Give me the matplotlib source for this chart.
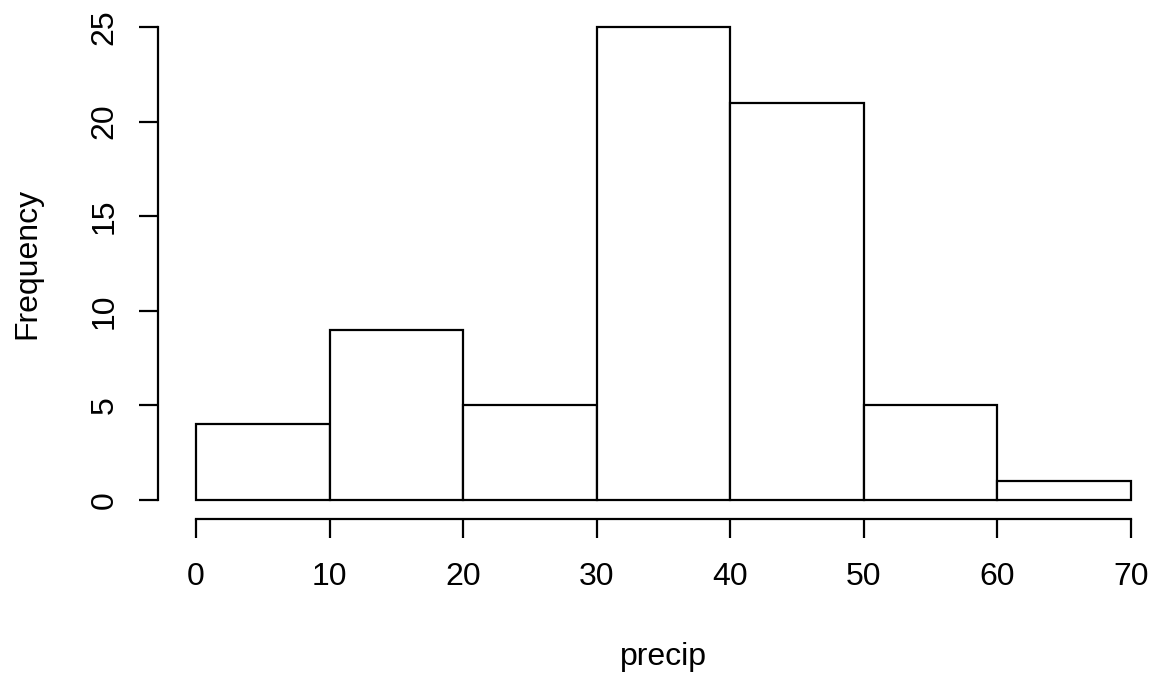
import matplotlib
matplotlib.use("Agg")
import matplotlib.pyplot as plt

breaks = [0, 10, 20, 30, 40, 50, 60, 70]
counts = [4, 9, 5, 25, 21, 5, 1]
xticks = [0, 10, 20, 30, 40, 50, 60, 70]
yticks = [0, 5, 10, 15, 20, 25]
xlabel = "precip"
ylabel = "Frequency"

plt.rcParams['font.family'] = ['Liberation Sans', 'DejaVu Sans']
FS = 23

W, H = 1155, 677
fig = plt.figure(figsize=(W / 100, H / 100), dpi=100)
ax = fig.add_axes([0, 0, 1, 1])

# pixel mapping
x0px, x70px = 196, 1131
y0px, y25px = 500, 27
sx = (x70px - x0px) / 70.0
sy = (y0px - y25px) / 25.0
ax.set_xlim(-x0px / sx, (W - x0px) / sx)
ax.set_ylim(-(H - y0px) / sy, y0px / sy)

lefts = breaks[:-1]
widths = [b - a for a, b in zip(breaks[:-1], breaks[1:])]
ax.bar(lefts, counts, width=widths, align='edge', facecolor='white',
       edgecolor='black', linewidth=1.6)

for s in ['top', 'right']:
    ax.spines[s].set_visible(False)
ax.spines['left'].set_position(('data', (158 - x0px) / sx))
ax.spines['left'].set_bounds(0, 25)
ax.spines['bottom'].set_position(('data', (y0px - 519) / sy))
ax.spines['bottom'].set_bounds(0, 70)
for s in ['left', 'bottom']:
    ax.spines[s].set_linewidth(1.6)

ax.set_xticks(xticks)
ax.set_xticklabels([str(v) for v in xticks], fontsize=FS)
ax.set_yticks(yticks)
ax.set_yticklabels([str(v) for v in yticks], fontsize=FS, rotation=90, va='center')
ax.tick_params(axis='both', direction='out', length=13.7, width=1.6)
ax.tick_params(axis='x', pad=17)
ax.tick_params(axis='y', pad=14)

fig.text(27 / W, 1 - 263.5 / H, ylabel, rotation=90, ha='center', va='center', fontsize=FS)
fig.text(663.5 / W, 1 - 665 / H, xlabel, ha='center', va='baseline', fontsize=FS)

fig.savefig("out.png", dpi=100)
